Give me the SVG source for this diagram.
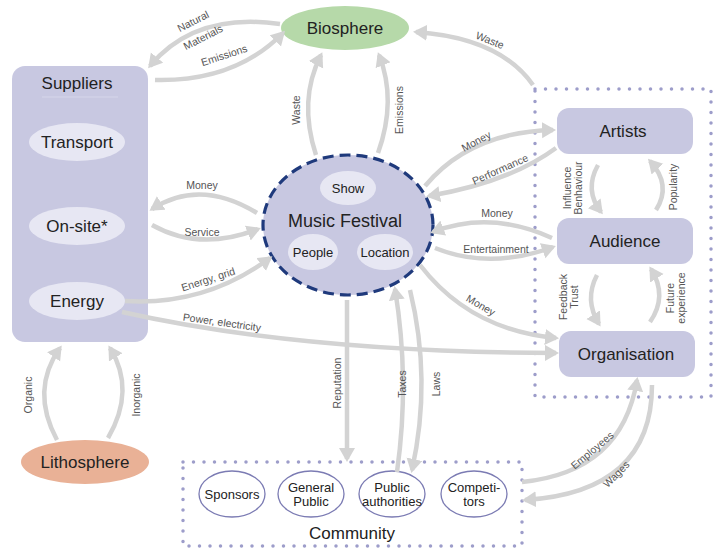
<svg xmlns="http://www.w3.org/2000/svg" width="722" height="557" viewBox="0 0 722 557">
<defs>
<marker id="ah" markerUnits="userSpaceOnUse" markerWidth="18" markerHeight="18" refX="11" refY="8" orient="auto">
<path d="M0,0 L14,8 L0,16 z" fill="#d3d3d3"/>
</marker>
<style>
.bg{fill:#fff}
.box{fill:#c8c8e1}
.inner{fill:#e7e7f3}
.dot{fill:none;stroke:#9d9dca;stroke-width:3.5;stroke-linecap:round;stroke-dasharray:0 10.5}
.c{fill:none;stroke:#d3d3d3;stroke-width:4.5;marker-end:url(#ah)}
.t{font-family:"Liberation Sans Narrow","Liberation Sans",Arial,sans-serif;fill:#222;text-anchor:middle;dominant-baseline:central}
.big{font-size:18px}
.mid{font-size:17px}
.sm{font-size:13px}
.lb{font-family:"Liberation Sans Narrow","Liberation Sans",Arial,sans-serif;font-size:10.5px;fill:#555;text-anchor:middle;dominant-baseline:central}
.com{fill:#fff;stroke:#7b7bb3;stroke-width:1.3}
</style>
</defs>
<rect class="bg" width="722" height="557"/>

<g id="suppliers">
<rect class="box" x="12" y="66" width="136" height="276" rx="13"/>
<line x1="42" y1="97" x2="118" y2="97" stroke="#d6d6ea" stroke-width="1"/>
<text class="t mid" x="77" y="83">Suppliers</text>
</g>
<g id="transport"><ellipse class="inner" cx="77" cy="142" rx="48" ry="19"/><text class="t mid" x="77" y="142">Transport</text></g>
<g id="onsite"><ellipse class="inner" cx="77" cy="226" rx="48" ry="19"/><text class="t mid" x="77" y="226">On-site*</text></g>
<g id="energy"><ellipse class="inner" cx="77" cy="301" rx="48" ry="19"/><text class="t mid" x="77" y="301">Energy</text></g>

<g id="biosphere"><ellipse cx="345" cy="28" rx="64" ry="22" fill="#b6d9a9"/><text class="t mid" x="345" y="28">Biosphere</text></g>
<g id="lithosphere"><ellipse cx="85" cy="462" rx="64" ry="22" fill="#e9b196"/><text class="t mid" x="85" y="462">Lithosphere</text></g>

<g id="festival">
<ellipse cx="348" cy="225" rx="85" ry="70" fill="#c8c8e1" stroke="#1f3a7c" stroke-width="3.2" stroke-dasharray="11 6"/>
<ellipse class="inner" cx="348" cy="188" rx="28" ry="17"/>
<text class="t sm" x="348" y="188">Show</text>
<text class="t big" x="345" y="221">Music Festival</text>
<ellipse class="inner" cx="313" cy="252" rx="25" ry="18"/>
<text class="t sm" x="313" y="252">People</text>
<ellipse class="inner" cx="385" cy="252" rx="28" ry="18"/>
<text class="t sm" x="385" y="252">Location</text>
</g>

<g id="stakeholders"><rect class="dot" x="535" y="89" width="176" height="308"/></g>
<g id="artists"><rect class="box" x="557" y="108" width="136" height="46" rx="12"/><text class="t mid" x="623" y="131">Artists</text></g>
<g id="audience"><rect class="box" x="557" y="218" width="136" height="46" rx="12"/><text class="t mid" x="625" y="241">Audience</text></g>
<g id="organisation"><rect class="box" x="559" y="331" width="136" height="46" rx="12"/><text class="t mid" x="626" y="354">Organisation</text></g>

<g id="community">
<rect class="dot" x="183" y="462" width="339" height="84"/>
<text class="t mid" x="352" y="533">Community</text>
</g>
<g id="sponsors"><ellipse class="com" cx="232" cy="494" rx="33" ry="23"/><text class="t sm" x="232" y="494">Sponsors</text></g>
<g id="generalpublic"><ellipse class="com" cx="311" cy="494" rx="33" ry="23"/><text class="t sm" x="311" y="487">General</text><text class="t sm" x="311" y="501">Public</text></g>
<g id="publicauthorities"><ellipse class="com" cx="392" cy="494" rx="33" ry="23"/><text class="t sm" x="392" y="487">Public</text><text class="t sm" x="392" y="501">authorities</text></g>
<g id="competitors"><ellipse class="com" cx="474" cy="494" rx="33" ry="23"/><text class="t sm" x="474" y="487">Competi-</text><text class="t sm" x="474" y="501">tors</text></g>

<g id="connectors">
<path class="c" d="M280 24 Q195 12 150 66"/>
<path class="c" d="M155 80 Q235 82 283 33"/>
<path class="c" d="M316 155 Q298 100 321 55"/>
<path class="c" d="M378 153 Q397 100 379 55"/>
<path class="c" d="M533 85 Q500 38 416 32"/>
<path class="c" d="M425 186 Q470 132 553 130"/>
<path class="c" d="M556 148 Q510 182 429 196"/>
<path class="c" d="M552 238 Q490 210 433 232"/>
<path class="c" d="M435 248 Q490 270 553 247"/>
<path class="c" d="M420 265 Q470 330 556 338"/>
<path class="c" d="M122 312 Q300 352 556 353"/>
<path class="c" d="M125 301 Q205 306 270 258"/>
<path class="c" d="M257 213 Q200 178 152 209"/>
<path class="c" d="M152 225 Q200 252 258 229"/>
<path class="c" d="M347 300 L347 459"/>
<path class="c" d="M397 472 Q410 380 395 289"/>
<path class="c" d="M410 290 Q432 380 412 470"/>
<path class="c" d="M522 482 Q622 472 637 380"/>
<path class="c" d="M652 385 Q652 492 525 500"/>
<path class="c" d="M57 440 Q30 390 60 348"/>
<path class="c" d="M108 438 Q136 390 110 348"/>
<path class="c" d="M598 165 Q584 190 601 212"/>
<path class="c" d="M656 210 Q672 185 650 161"/>
<path class="c" d="M597 275 Q584 300 599 324"/>
<path class="c" d="M650 322 Q668 296 651 269"/>
</g>

<g id="labels">
<text class="lb" transform="translate(193,21) rotate(-27)">Natural</text>
<text class="lb" transform="translate(203,37) rotate(-27)">Materials</text>
<text class="lb" transform="translate(224,55) rotate(-18)">Emissions</text>
<text class="lb" transform="translate(296,110) rotate(-90)">Waste</text>
<text class="lb" transform="translate(399,110) rotate(-90)">Emissions</text>
<text class="lb" transform="translate(490,40) rotate(22)">Waste</text>
<text class="lb" transform="translate(476,141) rotate(-28)">Money</text>
<text class="lb" transform="translate(500,169) rotate(-24)">Performance</text>
<text class="lb" transform="translate(497,213)">Money</text>
<text class="lb" transform="translate(496,249)">Entertainment</text>
<text class="lb" transform="translate(481,305) rotate(30)">Money</text>
<text class="lb" transform="translate(222,322) rotate(8)">Power, electricity</text>
<text class="lb" transform="translate(208,279) rotate(-18)">Energy, grid</text>
<text class="lb" transform="translate(202,185)">Money</text>
<text class="lb" transform="translate(202,232)">Service</text>
<text class="lb" transform="translate(337,383) rotate(-90)">Reputation</text>
<text class="lb" transform="translate(402,384) rotate(-90)">Taxes</text>
<text class="lb" transform="translate(436,384) rotate(-90)">Laws</text>
<text class="lb" transform="translate(592,450) rotate(-40)">Employees</text>
<text class="lb" transform="translate(616,474) rotate(-45)">Wages</text>
<text class="lb" transform="translate(28,395) rotate(-90)">Organic</text>
<text class="lb" transform="translate(136,395) rotate(-90)">Inorganic</text>
<text class="lb" transform="translate(567,188) rotate(-90)">Influence</text>
<text class="lb" transform="translate(578,188) rotate(-90)">Benhaviour</text>
<text class="lb" transform="translate(673,187) rotate(-90)">Popularity</text>
<text class="lb" transform="translate(563,297) rotate(-90)">Feedback</text>
<text class="lb" transform="translate(574,297) rotate(-90)">Trust</text>
<text class="lb" transform="translate(670,298) rotate(-90)">Future</text>
<text class="lb" transform="translate(681,298) rotate(-90)">experience</text>
</g>
</svg>
